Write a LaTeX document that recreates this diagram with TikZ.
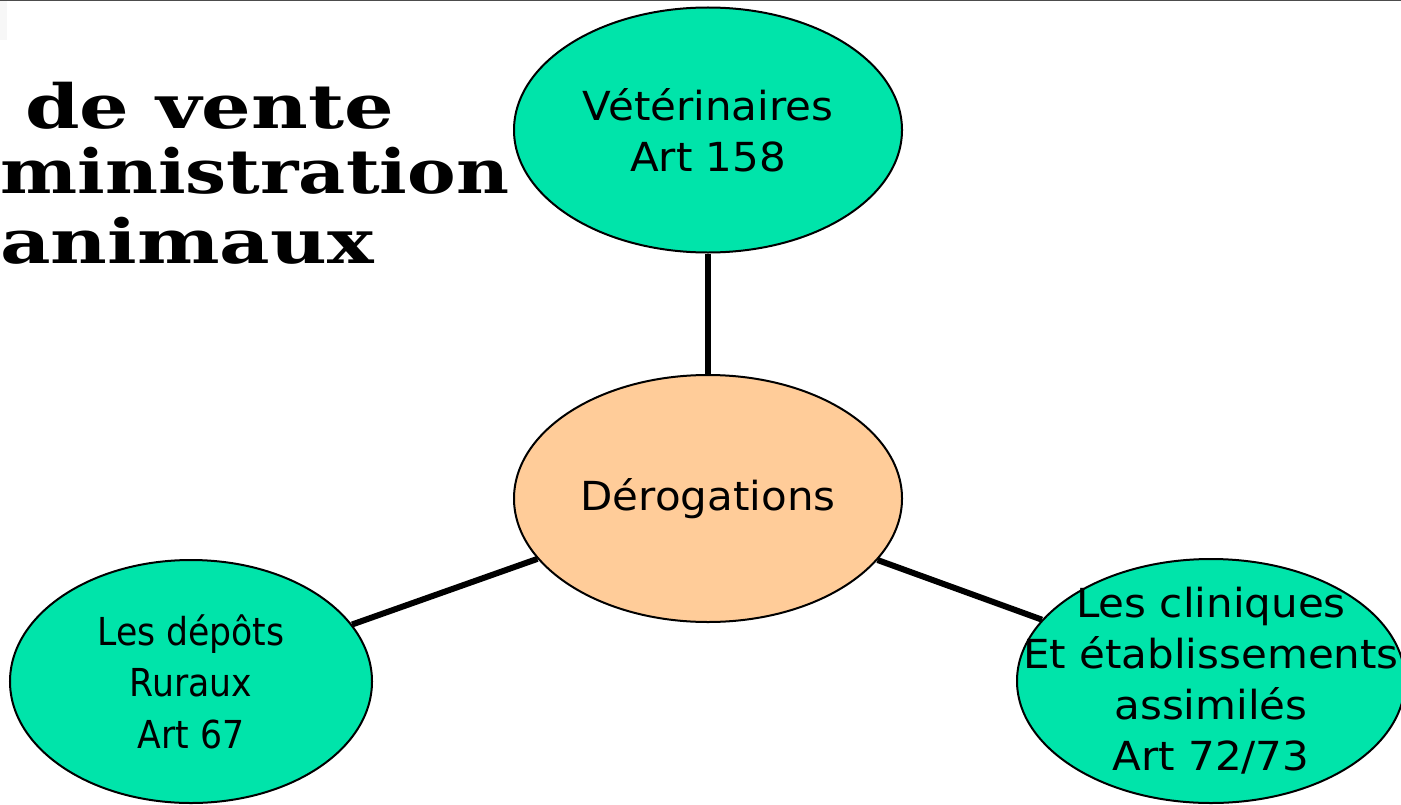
\documentclass[tikz,border=0pt]{standalone}
\usepackage{fontspec}
\setmainfont{DejaVu Sans}
\newfontfamily\lblfont{DejaVu Sans}[FakeStretch=1.05]
\newfontfamily\lblcond{DejaVu Sans}[FakeStretch=0.9]
\newfontfamily\ttlfont{DejaVu Serif Bold}[FakeStretch=1.195]
\newfontfamily\ttlwide{DejaVu Serif Bold}[FakeStretch=1.28]
\usetikzlibrary{shapes.geometric}
\definecolor{bubgreen}{RGB}{0,228,170}
\definecolor{bubpeach}{RGB}{255,204,153}
\tikzset{
  bubble/.style={ellipse, draw=black, line width=2bp, inner sep=0pt},
  bubtext/.style={align=center, font=\lblfont\fontsize{40bp}{51bp}\selectfont},
  bubtextc/.style={align=center, font=\lblcond\fontsize{38.5bp}{51.5bp}\selectfont},
  conn/.style={line width=6bp, draw=black},
  titletext/.style={anchor=base west, inner sep=0pt, font=\ttlfont\fontsize{61bp}{61bp}\selectfont},
  titlewide/.style={titletext, font=\ttlwide\fontsize{61bp}{61bp}\selectfont}
}
\begin{document}
\begin{tikzpicture}[x=1bp,y=-1bp]
\useasboundingbox (0,0) rectangle (1401,804);
\clip (0,0) rectangle (1401,804);
\fill[white] (0,0) rectangle (1401,804);
\fill[black!3] (0,0) rectangle (7,40);
\draw[line width=1.5bp, black!70] (0,0.6) -- (1401,0.6);

\node[titlewide] (t1) at (25,128) {de vente};
\node[titletext] (t2) at (0,193) {ministration};
\node[titlewide] (t3) at (0,263) {animaux};

\node[bubble, fill=bubgreen, minimum width=388bp, minimum height=245bp,
      label={[bubtext]center:Vétérinaires\\Art 158}] (vet) at (708,130) {};
\node[bubble, fill=bubpeach, minimum width=388bp, minimum height=247bp,
      label={[bubtext]center:Dérogations}] (der) at (708,498.5) {};
\node[bubble, fill=bubgreen, minimum width=362bp, minimum height=243bp,
      label={[bubtextc]center:Les dépôts\\Ruraux\\Art 67}] (dep) at (191,681.5) {};
\node[bubble, fill=bubgreen, minimum width=388bp, minimum height=244bp,
      label={[bubtext]center:Les cliniques\\Et établissements\\assimilés\\Art 72/73}] (cli) at (1211,681) {};

\draw[conn] (vet) -- (der);
\draw[conn] (der) -- (dep);
\draw[conn] (der) -- (cli);
\end{tikzpicture}
\end{document}
